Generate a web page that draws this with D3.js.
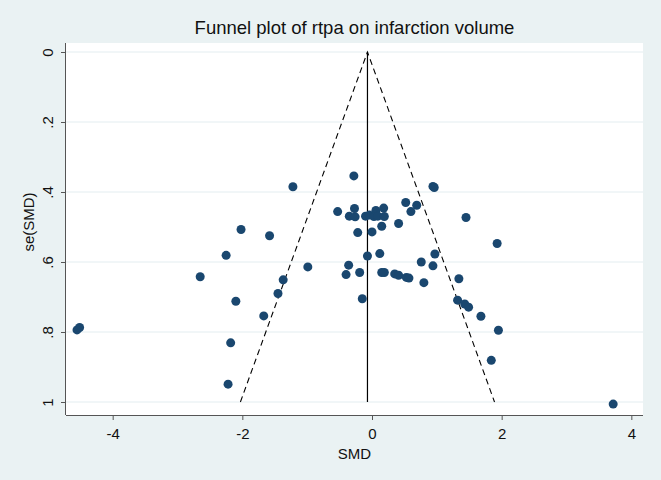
<!DOCTYPE html>
<html>
<head>
<meta charset="utf-8">
<script src="https://cdn.jsdelivr.net/npm/d3@7"></script>
<style>
html,body{margin:0;padding:0;background:#eaf2f3;}
svg{display:block;font-family:"Liberation Sans",Arial,sans-serif;}
</style>
</head>
<body>
<svg id="chart" width="661" height="480"></svg>
<script>
const title = "Funnel plot of rtpa on infarction volume";
const xLabel = "SMD";
const yLabel = "se(SMD)";
const xTicks = [-4, -2, 0, 2, 4];
const yTicks = [0, 0.2, 0.4, 0.6, 0.8, 1];
const yTickLabels = ["0", ".2", ".4", ".6", ".8", "1"];
const pooled = -0.07;
const smd = [-4.55,-4.51,-2.65,-2.25,-2.22,-2.18,-2.10,-2.02,-1.67,-1.58,-1.45,-1.37,-1.22,-0.99,
  -0.53,-0.40,-0.36,-0.35,-0.28,-0.27,-0.26,-0.22,-0.19,-0.15,-0.10,-0.07,-0.04,0.00,0.03,0.06,
  0.09,0.12,0.15,0.15,0.18,0.19,0.19,0.35,0.41,0.41,0.52,0.53,0.57,0.60,0.69,0.76,0.80,0.94,0.96,
  0.94,0.97,1.32,1.34,1.43,1.45,1.49,1.68,1.84,1.93,1.95,3.72];
const se = [0.794,0.787,0.642,0.581,0.949,0.831,0.712,0.507,0.754,0.525,0.690,0.651,0.385,0.614,
  0.456,0.636,0.609,0.469,0.354,0.447,0.471,0.516,0.630,0.705,0.469,0.583,0.466,0.514,0.470,0.453,
  0.469,0.576,0.498,0.630,0.446,0.470,0.630,0.634,0.490,0.638,0.430,0.644,0.646,0.456,0.438,0.600,0.659,0.384,0.387,
  0.611,0.577,0.709,0.648,0.720,0.473,0.729,0.755,0.881,0.547,0.795,1.006];

const svg = d3.select("#chart");
const L = 66, R = 643, T = 43, B = 415;
const x = d3.scaleLinear().domain([-4.72, 4.18]).range([L, R]);
const y = d3.scaleLinear().domain([0, 1]).range([52, 402]);

// plot region
svg.append("rect").attr("x", L).attr("y", T).attr("width", R - L).attr("height", B - T).attr("fill", "#ffffff");

// gridlines
svg.append("g").selectAll("line").data(yTicks).join("line")
  .attr("x1", L).attr("x2", R)
  .attr("y1", d => y(d)).attr("y2", d => y(d))
  .attr("stroke", "#e3edf0").attr("stroke-width", 1);

// funnel
const seMax = 1;
const funnel = [[pooled - 1.96 * seMax, seMax], [pooled, 0], [pooled + 1.96 * seMax, seMax]];
svg.append("path")
  .attr("d", d3.line().x(d => x(d[0])).y(d => y(d[1]))(funnel))
  .attr("fill", "none").attr("stroke", "#000").attr("stroke-width", 1.1)
  .attr("stroke-dasharray", "6,4");
svg.append("line")
  .attr("x1", x(pooled)).attr("x2", x(pooled))
  .attr("y1", y(0)).attr("y2", y(seMax))
  .attr("stroke", "#000").attr("stroke-width", 1.2);

// points
svg.append("g").selectAll("circle").data(smd.map((d, i) => [d, se[i]])).join("circle")
  .attr("cx", d => x(d[0])).attr("cy", d => y(d[1])).attr("r", 4.5)
  .attr("fill", "#1a476f");

// axes
const xAxis = d3.axisBottom(x).tickValues(xTicks).tickFormat(d => d).tickSize(5).tickPadding(8);
const gx = svg.append("g").attr("transform", `translate(0,${B})`).call(xAxis);
gx.select(".domain").attr("d", `M${L},0.5H${R}`).attr("stroke", "#555");
gx.selectAll(".tick line").attr("stroke", "#555");
gx.selectAll("text").attr("font-size", 15).attr("fill", "#111").style("font-family", "'Liberation Sans',Arial,sans-serif");

const yAxis = d3.axisLeft(y).tickValues(yTicks).tickFormat((d, i) => yTickLabels[i]).tickSize(5).tickPadding(4);
const gy = svg.append("g").attr("transform", `translate(${L},0)`).call(yAxis);
gy.select(".domain").attr("d", `M-0.5,${T}V${B}`).attr("stroke", "#555");
gy.selectAll(".tick line").attr("stroke", "#555");
gy.selectAll("text")
  .attr("font-size", 15).attr("fill", "#111")
  .attr("x", null).attr("dy", null)
  .attr("transform", "translate(-13,0) rotate(-90)")
  .attr("text-anchor", "middle")
  .style("font-family", "'Liberation Sans',Arial,sans-serif");

// labels
svg.append("text").attr("x", (L + R) / 2).attr("y", 34).attr("text-anchor", "middle")
  .attr("font-size", 18.5).attr("fill", "#111").text(title);
svg.append("text").attr("x", (L + R) / 2).attr("y", 459).attr("text-anchor", "middle")
  .attr("font-size", 15).attr("fill", "#111").text(xLabel);
svg.append("text").attr("transform", `translate(34,222) rotate(-90)`).attr("text-anchor", "middle")
  .attr("font-size", 15).attr("fill", "#111").text(yLabel);
</script>
</body>
</html>
